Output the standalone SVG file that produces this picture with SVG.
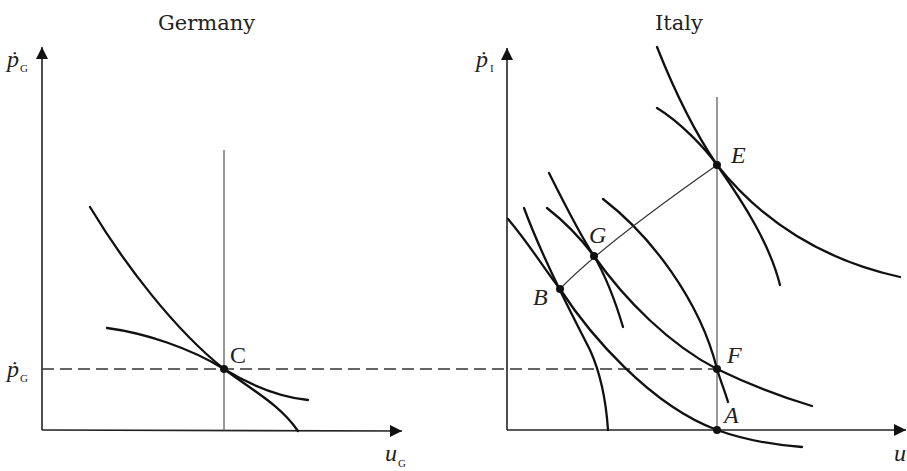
<svg xmlns="http://www.w3.org/2000/svg" width="907" height="471" viewBox="0 0 907 471">
<defs>
<marker id="arr" markerUnits="userSpaceOnUse" markerWidth="14" markerHeight="12" refX="12" refY="6" orient="auto">
<path d="M0,0 L12,6 L0,12 Z" fill="#111"/>
</marker>
<style>
.axis{stroke:#222;stroke-width:1.6;fill:none}
.guide{stroke:#444;stroke-width:1.1;fill:none}
.dash{stroke:#333;stroke-width:1.3;fill:none;stroke-dasharray:12 6}
.curve{stroke:#111;stroke-width:2.3;fill:none;stroke-linecap:round}
.thin{stroke:#333;stroke-width:1.2;fill:none}
.dot{fill:#111}
.title{font-family:"DejaVu Serif","Liberation Serif",serif;font-size:21px;fill:#222}
.lab{font-family:"Liberation Serif",serif;font-style:italic;font-size:24px;fill:#222}
.ax{font-family:"Liberation Serif",serif;font-style:italic;font-size:24px;fill:#222}
.sub{font-family:"Liberation Serif",serif;font-style:normal;font-size:11px;fill:#222}
</style>
</defs>
<rect width="907" height="471" fill="#fff"/>

<g id="titles">
<text class="title" x="158" y="30">Germany</text>
<text class="title" x="655" y="30">Italy</text>
</g>

<g id="axes">
<path class="axis" d="M42,430 L42,47" marker-end="url(#arr)"/>
<path class="axis" d="M42,430 L402,431" marker-end="url(#arr)"/>
<path class="axis" d="M507,430 L507,48" marker-end="url(#arr)"/>
<path class="axis" d="M507,430 L906,430" marker-end="url(#arr)"/>
<text class="ax" x="7" y="67">ṗ<tspan class="sub" dx="1" dy="5">G</tspan></text>
<text class="ax" x="7" y="377">ṗ<tspan class="sub" dx="1" dy="5">G</tspan></text>
<text class="ax" x="476" y="67">ṗ<tspan class="sub" dx="2" dy="5">I</tspan></text>
<text class="ax" x="385" y="461">u<tspan class="sub" dx="1" dy="6">G</tspan></text>
<text class="ax" x="894" y="461">u</text>
</g>

<g id="guides">
<path class="guide" d="M224,150 L224,431"/>
<path class="guide" d="M717,97 L717,430"/>
<path class="dash" d="M42,369 L717,369"/>
</g>

<g id="connectors">
<!-- Germany -->
<path class="curve" d="M90,207 C125,265 175,330 224,369 C255,392 280,405 298,431"/>
<path class="curve" d="M107,328 C145,333 190,348 224,369 C250,385 280,397 308,400"/>
<!-- Italy -->
<path class="curve" d="M657,47 C680,105 700,140 717,165 C745,205 770,245 780,285"/>
<path class="curve" d="M657,108 C680,122 705,148 717,165 C745,200 800,255 900,277"/>
<path class="curve" d="M549,173 C565,205 580,235 594,256 C605,275 615,300 623,327"/>
<path class="curve" d="M547,208 C565,222 582,240 594,256 C625,300 670,345 717,369 C750,385 785,398 812,406"/>
<path class="curve" d="M524,208 C545,265 575,320 590,350 C600,372 606,400 608,430"/>
<path class="curve" d="M508,219 C530,245 545,270 560,289 C590,335 650,405 717,430 C745,440 775,445 802,447"/>
<path class="curve" d="M603,199 C650,235 700,300 717,369 C721,382 725,392 728,402"/>
<path class="thin" d="M560,289 Q600,247 717,165"/>
</g>

<g id="node-C"><circle class="dot" cx="224" cy="369" r="4"/><text class="lab" x="230" y="363" style="font-style:normal">C</text></g>
<g id="node-E"><circle class="dot" cx="717" cy="165" r="4"/><text class="lab" x="731" y="163">E</text></g>
<g id="node-G"><circle class="dot" cx="594" cy="256" r="4"/><text class="lab" x="589" y="243">G</text></g>
<g id="node-B"><circle class="dot" cx="560" cy="289" r="4"/><text class="lab" x="533" y="305">B</text></g>
<g id="node-F"><circle class="dot" cx="717" cy="369" r="4"/><text class="lab" x="727" y="363">F</text></g>
<g id="node-A"><circle class="dot" cx="717" cy="430" r="4"/><text class="lab" x="724" y="423">A</text></g>
</svg>
